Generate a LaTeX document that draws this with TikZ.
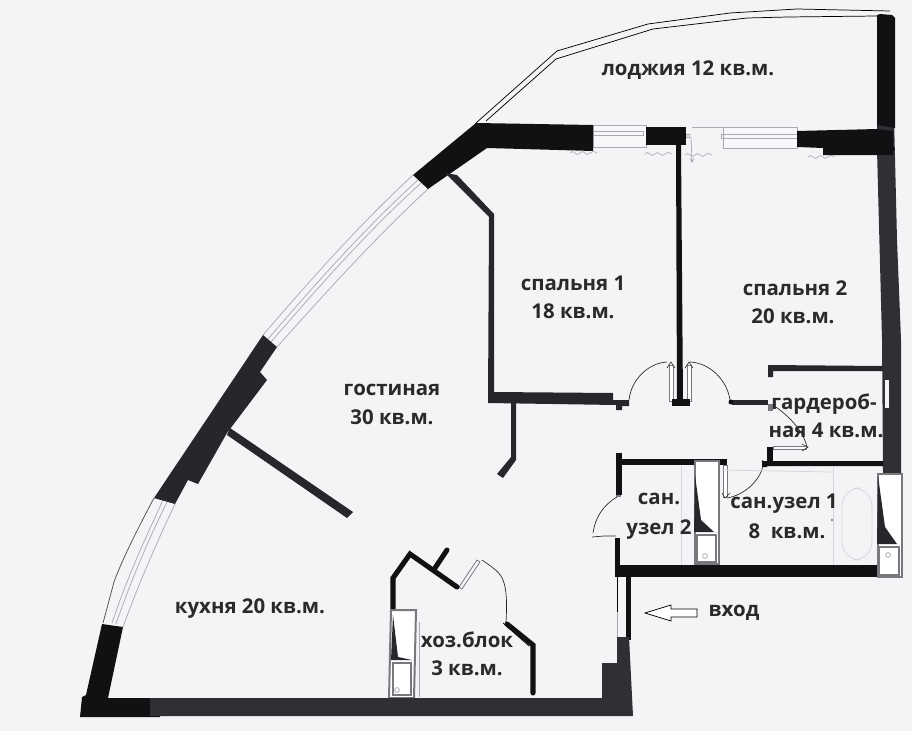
\documentclass[tikz,border=0pt]{standalone}
\usepackage{fontspec}
\setmainfont{Open Sans}
\newfontfamily\labfont{Open Sans}
\definecolor{bgc}{HTML}{F4F4F6}
\definecolor{wallk}{HTML}{111114}
\definecolor{walld}{HTML}{26272A}
\definecolor{wallg}{HTML}{2E3033}
\definecolor{framec}{HTML}{77797E}
\definecolor{thing}{HTML}{A9ABAF}
\definecolor{faintc}{HTML}{D6D7DA}
\definecolor{labc}{HTML}{2A2A2C}
\tikzset{
  lab/.style={font=\labfont\bfseries\fontsize{15.3pt}{18pt}\selectfont,text=labc,anchor=base,inner sep=0pt,yshift=-1.1pt},
  wallr/.style={draw=wallk,line width=3.8pt,line cap=round,line join=miter},
  thinb/.style={draw=black,line width=.55pt},
  arcl/.style={draw=black!85,line width=.5pt},
  ging/.style={draw=thing,line width=.55pt},
  leaf/.style={draw=framec,fill=white,line width=.6pt},
  wavy/.style={draw=thing,line width=.5pt},
  frameb/.style={draw=framec,fill=white,line width=1.5pt},
  faint/.style={draw=faintc,line width=.6pt},
  tipl/.style={draw=black!80,line width=.5pt},
}
\begin{document}
\begin{tikzpicture}[x=0.75pt,y=-0.75pt]
\useasboundingbox (0,0) rectangle (912,731);
\fill[bgc] (0,0) rectangle (912,731);

% loggia double line
\draw[thinb] (476,123) -- (557,51) -- (648,24) -- (730,13) -- (797,9) -- (890,11);
\draw[thinb] (486,121) -- (556,59) -- (653,29) -- (747,18) -- (788,17) -- (877,16);

% upper curved window
\draw[ging] (413,175) .. controls (362,222) and (312,278) .. (263,335);
\draw[ging] (418,180) .. controls (367,226) and (317,282) .. (268,339);
\draw[ging] (421,183) .. controls (370,229) and (320,285) .. (271,342);
\draw[ging] (428,189) .. controls (377,236) and (327,291) .. (277,347);
% lower curved window
\draw[thinb,draw=black!70] (154,498) .. controls (137,530) and (122,560) .. (114,582) -- (103,623);
\draw[ging] (163,500) .. controls (147,535) and (130,570) .. (112,623);
\draw[ging] (167,502) .. controls (150,537) and (134,572) .. (116,624);
\draw[ging] (175,504) .. controls (158,540) and (140,580) .. (123,627);

% top windows
\draw[ging,fill=bgc!60!white] (593,125) rectangle (646,147);
\draw[ging] (593,131) rectangle (643,135);
\draw[ging,fill=bgc!60!white] (723,127) rectangle (797,148);
\draw[ging] (721,134) rectangle (797,138);
\draw[ging] (686,134) rectangle (689,137);
\draw[ging] (692,127) -- (723,127);
\draw[ging,->,>=stealth] (691,137) -- (692,163);
% small wavy marks
\foreach \a/\b in {570/153,645/154,685/155,808/157}{
  \draw[wavy] (\a,\b) .. controls (\a+2,\b-2) and (\a+3,\b-2) .. (\a+5,\b)
    .. controls (\a+7,\b+2) and (\a+8,\b+2) .. (\a+10,\b)
    .. controls (\a+12,\b-2) and (\a+13,\b-2) .. (\a+15,\b)
    .. controls (\a+17,\b+2) and (\a+18,\b+2) .. (\a+20,\b)
    .. controls (\a+22,\b-2) and (\a+23,\b-2) .. (\a+27,\b);
}

% top walls
\fill[wallk] (413,175) -- (476,123) -- (593,125) -- (593,151) -- (487,148) -- (428,189) -- cycle;
\fill[wallk] (646,127) rectangle (686,145);
\fill[wallk] (676,145) -- (681,145) -- (683,403) -- (677,403) -- cycle;
% right wall
\fill[wallg] (877,117) -- (894,117) -- (897,240) -- (901,340) -- (901,473) -- (883,473) -- (882,340) -- (877,150) -- cycle;
\fill[wallk] (877,15) -- (880,14) -- (892,15) -- (895,18) -- (895,128) -- (877,125) -- cycle;
\fill[wallk] (797,131) -- (877,129) -- (893,131) -- (893,155) -- (823,155) -- (823,148) -- (797,147) -- cycle;
\fill[wallk] (891,149) circle (3.5);
% bedroom 1 wall
\fill[walld] (445,173) -- (457,175) -- (494,214) -- (494,392) -- (613,393) -- (613,400) -- (629,400) -- (629,406) -- (622,406) -- (622,410) -- (616,410) -- (616,405) -- (488,403) -- (489,217) -- cycle;
% stub below
\fill[walld] (511,403) -- (516,403) -- (516,460) -- (503,478) -- (497,474) -- (511,457) -- cycle;

% doors to the bedrooms
\draw[arcl] (629,400) .. controls (631,380) and (648,363) .. (667,362);
\draw[arcl] (690,362) .. controls (710,363) and (727,380) .. (730,400);
\draw[leaf] (669,365) rectangle (673,401);
\draw[leaf] (687,365) rectangle (691,401);
\draw[tipl] (667,368) -- (671,362) -- (675,368);
\draw[tipl] (685,368) -- (689,362) -- (693,368);
\fill[wallk] (672,399) rectangle (690,406);
\fill[walld] (732,400) rectangle (768,405);
\fill[wallk] (731,402) circle (2.5);
% wardrobe
\fill[walld] (768,365) -- (883,366) -- (883,371) -- (773,371) -- (773,377) -- (768,377) -- cycle;
\fill[framec] (768,404) rectangle (773,411);
\draw[arcl] (773,405) .. controls (788,415) and (803,430) .. (807,447);
\draw[leaf] (773,446) rectangle (806,449);
\draw[tipl] (802,444) -- (808,447) -- (802,451);
\fill[wallk] (767,447) rectangle (773,462);
\fill[wallk] (763,461) -- (883,461) -- (883,466) -- (767,466) -- (767,467) -- (762,467) -- (762,460) -- cycle;
\fill[bgc] (885,380) rectangle (889,408);
% bath door
\draw[arcl] (763,466) .. controls (760,480) and (745,495) .. (727,498);
\draw[leaf] (723,465) rectangle (727,497);
\draw[tipl] (722,493) -- (725,498) -- (730,493);
% bath partition, bath tub
\draw[faint] (833,466) -- (833,565);
\draw[faint,rounded corners=14pt] (842,488) rectangle (872,560);
\draw[faint] (681,466) -- (681,565);
\draw[faint] (722,470) -- (832,472);
\fill[black!60] (832,520) circle (1.2);
% san 2 walls
\fill[wallk] (618,459) rectangle (727,465);
\fill[wallk] (616,453) rectangle (622,495);
\fill[framec] (616,495) rectangle (621,497);
\draw[arcl] (617,497) .. controls (603,505) and (595,518) .. (593,533);
\draw[arcl] (592,537) -- (604,536) -- (616,536);
% entry/south walls
\fill[wallk] (615,538) rectangle (620,567);
\fill[wallk] (615,565) rectangle (877,577);
\fill[wallk] (626,577) rectangle (631,640);
\draw[thinb] (617,577) -- (617,612);
\draw[ging] (617,612) -- (617,637);

% duct/shower units
\draw[frameb] (695,461) rectangle (719,564);
\fill[walld] (695,475) -- (701,520) -- (714,532) -- (718,532) -- (694,532) -- cycle;
\draw[frameb] (697,535) rectangle (716,562);
\draw[ging] (705,556) circle (2.4);
\draw[frameb] (878,474) rectangle (902,577);
\fill[walld] (878,476) -- (885,527) -- (897,544) -- (877,544) -- cycle;
\draw[frameb] (879,547) rectangle (899,575);
\draw[ging] (888,555) circle (2.4);

% living-room west walls
\fill[walld] (263,335) -- (277,347) -- (260,372) -- (267,380) -- (227,433) -- (198,484) -- (188,480) -- (175,504) -- (154,498) -- cycle;
\fill[walld] (230,428) -- (353,512) -- (347,518) -- (227,435) -- cycle;
% south-west wall
\fill[wallk] (102,624) -- (123,627) -- (108,698) -- (160,698) -- (160,717) -- (80,717) -- (82,697) -- (86,695) -- cycle;
% south wall
\fill[wallg] (150,698) -- (602,698) -- (602,663) -- (617,663) -- (617,637) -- (629,637) -- (633,716) -- (150,716) -- cycle;

% utility block
\draw[leaf,fill=none] (459,587) -- (477,560) -- (480,562) -- (462,589) -- cycle;
\draw[wallr] (393,610) -- (393,578) -- (410,554) -- (457,587);
\draw[wallr] (435,568) -- (447,550);
\draw[arcl] (482,560) .. controls (492,567) and (500,572) .. (503,580) .. controls (507,590) and (507,605) .. (506,622);
\draw[thinb] (503,623) -- (529,646);
\draw[wallr] (507,624) -- (533,645) -- (533,693);
\draw[frameb] (391,610) -- (416,610) -- (414,698) -- (389,698) -- cycle;
\fill[walld] (393,615) -- (398,657) -- (412,660) -- (391,660) -- cycle;
\draw[frameb] (393,663) rectangle (411,695);
\draw[ging] (397,690) circle (2.4);
\draw[ging] (419,622) -- (419,697);
\fill[wallg] (150,698) rectangle (602,716);

% entry arrow
\draw[thinb,fill=white] (645,613) -- (671,605) -- (671,609) -- (697,609) -- (697,617) -- (671,617) -- (671,621) -- cycle;

% labels
\node[lab] (loggia) at (688,74) {лоджия 12 кв.м.};
\node[lab] (bed1a) at (573,289) {спальня 1};
\node[lab] (bed1b) at (573,317) {18 кв.м.};
\node[lab] (bed2a) at (795,294) {спальня 2};
\node[lab] (bed2b) at (793,322) {20 кв.м.};
\node[lab] (liva) at (392,394) {гостиная};
\node[lab] (livb) at (392,423) {30 кв.м.};
\node[lab] (wara) at (824,408) {гардероб-};
\node[lab] (warb) at (826,436) {ная 4 кв.м.};
\node[lab] (sana) at (659,503) {сан.};
\node[lab] (sanb) at (659,533) {узел 2};
\node[lab] (bata) at (784,507) {сан.узел 1};
\node[lab] (batb) at (787,537) {8\ \ кв.м.};
\node[lab] (kit) at (250,612) {кухня 20 кв.м.};
\node[lab] (utla) at (467,646) {хоз.блок};
\node[lab] (utlb) at (467,674) {3 кв.м.};
\node[lab] (entry) at (734,615) {вход};
\end{tikzpicture}
\end{document}
